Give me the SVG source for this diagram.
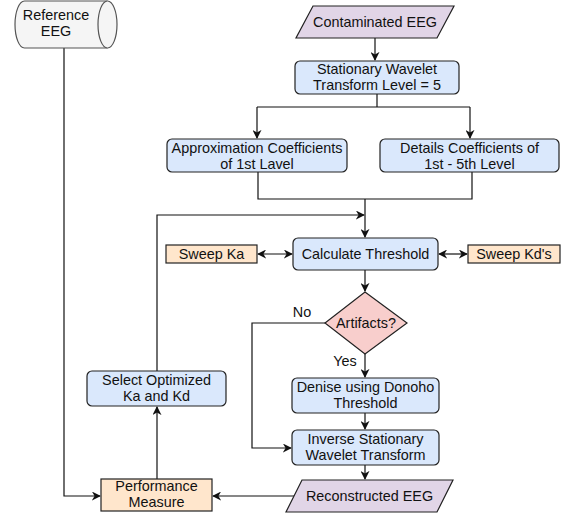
<svg xmlns="http://www.w3.org/2000/svg" width="569" height="516" viewBox="0 0 569 516">
<style>
text{font-family:"Liberation Sans",Arial,sans-serif;font-size:14.4px;fill:#111;text-anchor:middle}
.blue{fill:#dae8fc;stroke:#222;stroke-width:1.2}
.peach{fill:#ffe6cc;stroke:#222;stroke-width:1.2}
.pink{fill:#f8cecc;stroke:#222;stroke-width:1.2}
.purple{fill:#e1d5e7;stroke:#222;stroke-width:1.2}
.cyl{fill:#f5f5f5;stroke:#555;stroke-width:1.2}
.ln{fill:none;stroke:#111;stroke-width:1.2}
</style>
<defs>
<marker id="ah" viewBox="0 0 10 10" refX="9" refY="5" markerWidth="9" markerHeight="9" markerUnits="userSpaceOnUse" orient="auto-start-reverse">
<path d="M0,0 L10,5 L0,10 L3,5 Z" fill="#111"/>
</marker>
</defs>
<rect width="569" height="516" fill="#fff"/>
<g id="connectors">
<path class="ln" d="M64,48 V496 H100" marker-end="url(#ah)"/>
<path class="ln" d="M375,38 V60" marker-end="url(#ah)"/>
<path class="ln" d="M377,94 V107"/>
<path class="ln" d="M257,107 H470"/>
<path class="ln" d="M257,107 V138" marker-end="url(#ah)"/>
<path class="ln" d="M470,107 V138" marker-end="url(#ah)"/>
<path class="ln" d="M258,172 V199 H472 V172"/>
<path class="ln" d="M365,199 V237" marker-end="url(#ah)"/>
<path class="ln" d="M157,371 V215 H364" marker-end="url(#ah)"/>
<path class="ln" d="M258,254 H292" marker-start="url(#ah)" marker-end="url(#ah)"/>
<path class="ln" d="M439,254 H467" marker-start="url(#ah)" marker-end="url(#ah)"/>
<path class="ln" d="M365,270 V291" marker-end="url(#ah)"/>
<path class="ln" d="M365,354 V377" marker-end="url(#ah)"/>
<path class="ln" d="M325,323 H252 V448 H291" marker-end="url(#ah)"/>
<path class="ln" d="M365,413 V429" marker-end="url(#ah)"/>
<path class="ln" d="M365,465 V479" marker-end="url(#ah)"/>
<path class="ln" d="M294,496 H213" marker-end="url(#ah)"/>
<path class="ln" d="M157,479 V407" marker-end="url(#ah)"/>
<text x="302" y="317">No</text>
<text x="345" y="366">Yes</text>
</g>
<g id="reference-eeg">
<path class="cyl" d="M24.5,1 H107.5 A9.5,23.5 0 0 1 107.5,48 H24.5 A9.5,23.5 0 0 1 24.5,1 Z"/>
<path class="cyl" d="M107.5,1 A9.5,23.5 0 0 0 107.5,48" fill="none"/>
<text x="56" y="20">Reference</text>
<text x="56" y="36">EEG</text>
</g>
<g id="contaminated-eeg">
<polygon class="purple" points="313,6 454,6 437,38 296,38"/>
<text x="375" y="27">Contaminated EEG</text>
</g>
<g id="swt">
<rect class="blue" x="295" y="61" width="164" height="33" rx="5"/>
<text x="377" y="74">Stationary Wavelet</text>
<text x="377" y="90">Transform Level = 5</text>
</g>
<g id="approx">
<rect class="blue" x="167" y="139" width="180" height="33" rx="5"/>
<text x="257" y="153">Approximation Coefficients</text>
<text x="257" y="169">of 1st Lavel</text>
</g>
<g id="details">
<rect class="blue" x="380" y="139" width="179" height="33" rx="5"/>
<text x="469.5" y="153">Details Coefficients of</text>
<text x="469.5" y="169">1st - 5th Level</text>
</g>
<g id="calc">
<rect class="blue" x="293" y="238" width="145" height="32" rx="5"/>
<text x="365.5" y="259">Calculate Threshold</text>
</g>
<g id="sweep-ka">
<rect class="peach" x="166" y="245" width="91" height="18"/>
<text x="211.5" y="259">Sweep Ka</text>
</g>
<g id="sweep-kd">
<rect class="peach" x="468" y="245" width="92" height="18"/>
<text x="514" y="259">Sweep Kd's</text>
</g>
<g id="artifacts">
<polygon class="pink" points="365,292 407,323 365,354 325,323"/>
<text x="366" y="328">Artifacts?</text>
</g>
<g id="denoise">
<rect class="blue" x="292" y="378" width="147" height="35" rx="5"/>
<text x="365.5" y="392">Denise using Donoho</text>
<text x="365.5" y="408">Threshold</text>
</g>
<g id="iswt">
<rect class="blue" x="292" y="430" width="147" height="35" rx="5"/>
<text x="365.5" y="444">Inverse Stationary</text>
<text x="365.5" y="460">Wavelet Transform</text>
</g>
<g id="reconstructed">
<polygon class="purple" points="302,480 453,480 437,512 286,512"/>
<text x="369.5" y="501">Reconstructed EEG</text>
</g>
<g id="performance">
<rect class="peach" x="101" y="479" width="111" height="32"/>
<text x="156.5" y="491">Performance</text>
<text x="156.5" y="507">Measure</text>
</g>
<g id="select">
<rect class="blue" x="87" y="371" width="139" height="35" rx="5"/>
<text x="156.5" y="385">Select Optimized</text>
<text x="156.5" y="401">Ka and Kd</text>
</g>
</svg>
